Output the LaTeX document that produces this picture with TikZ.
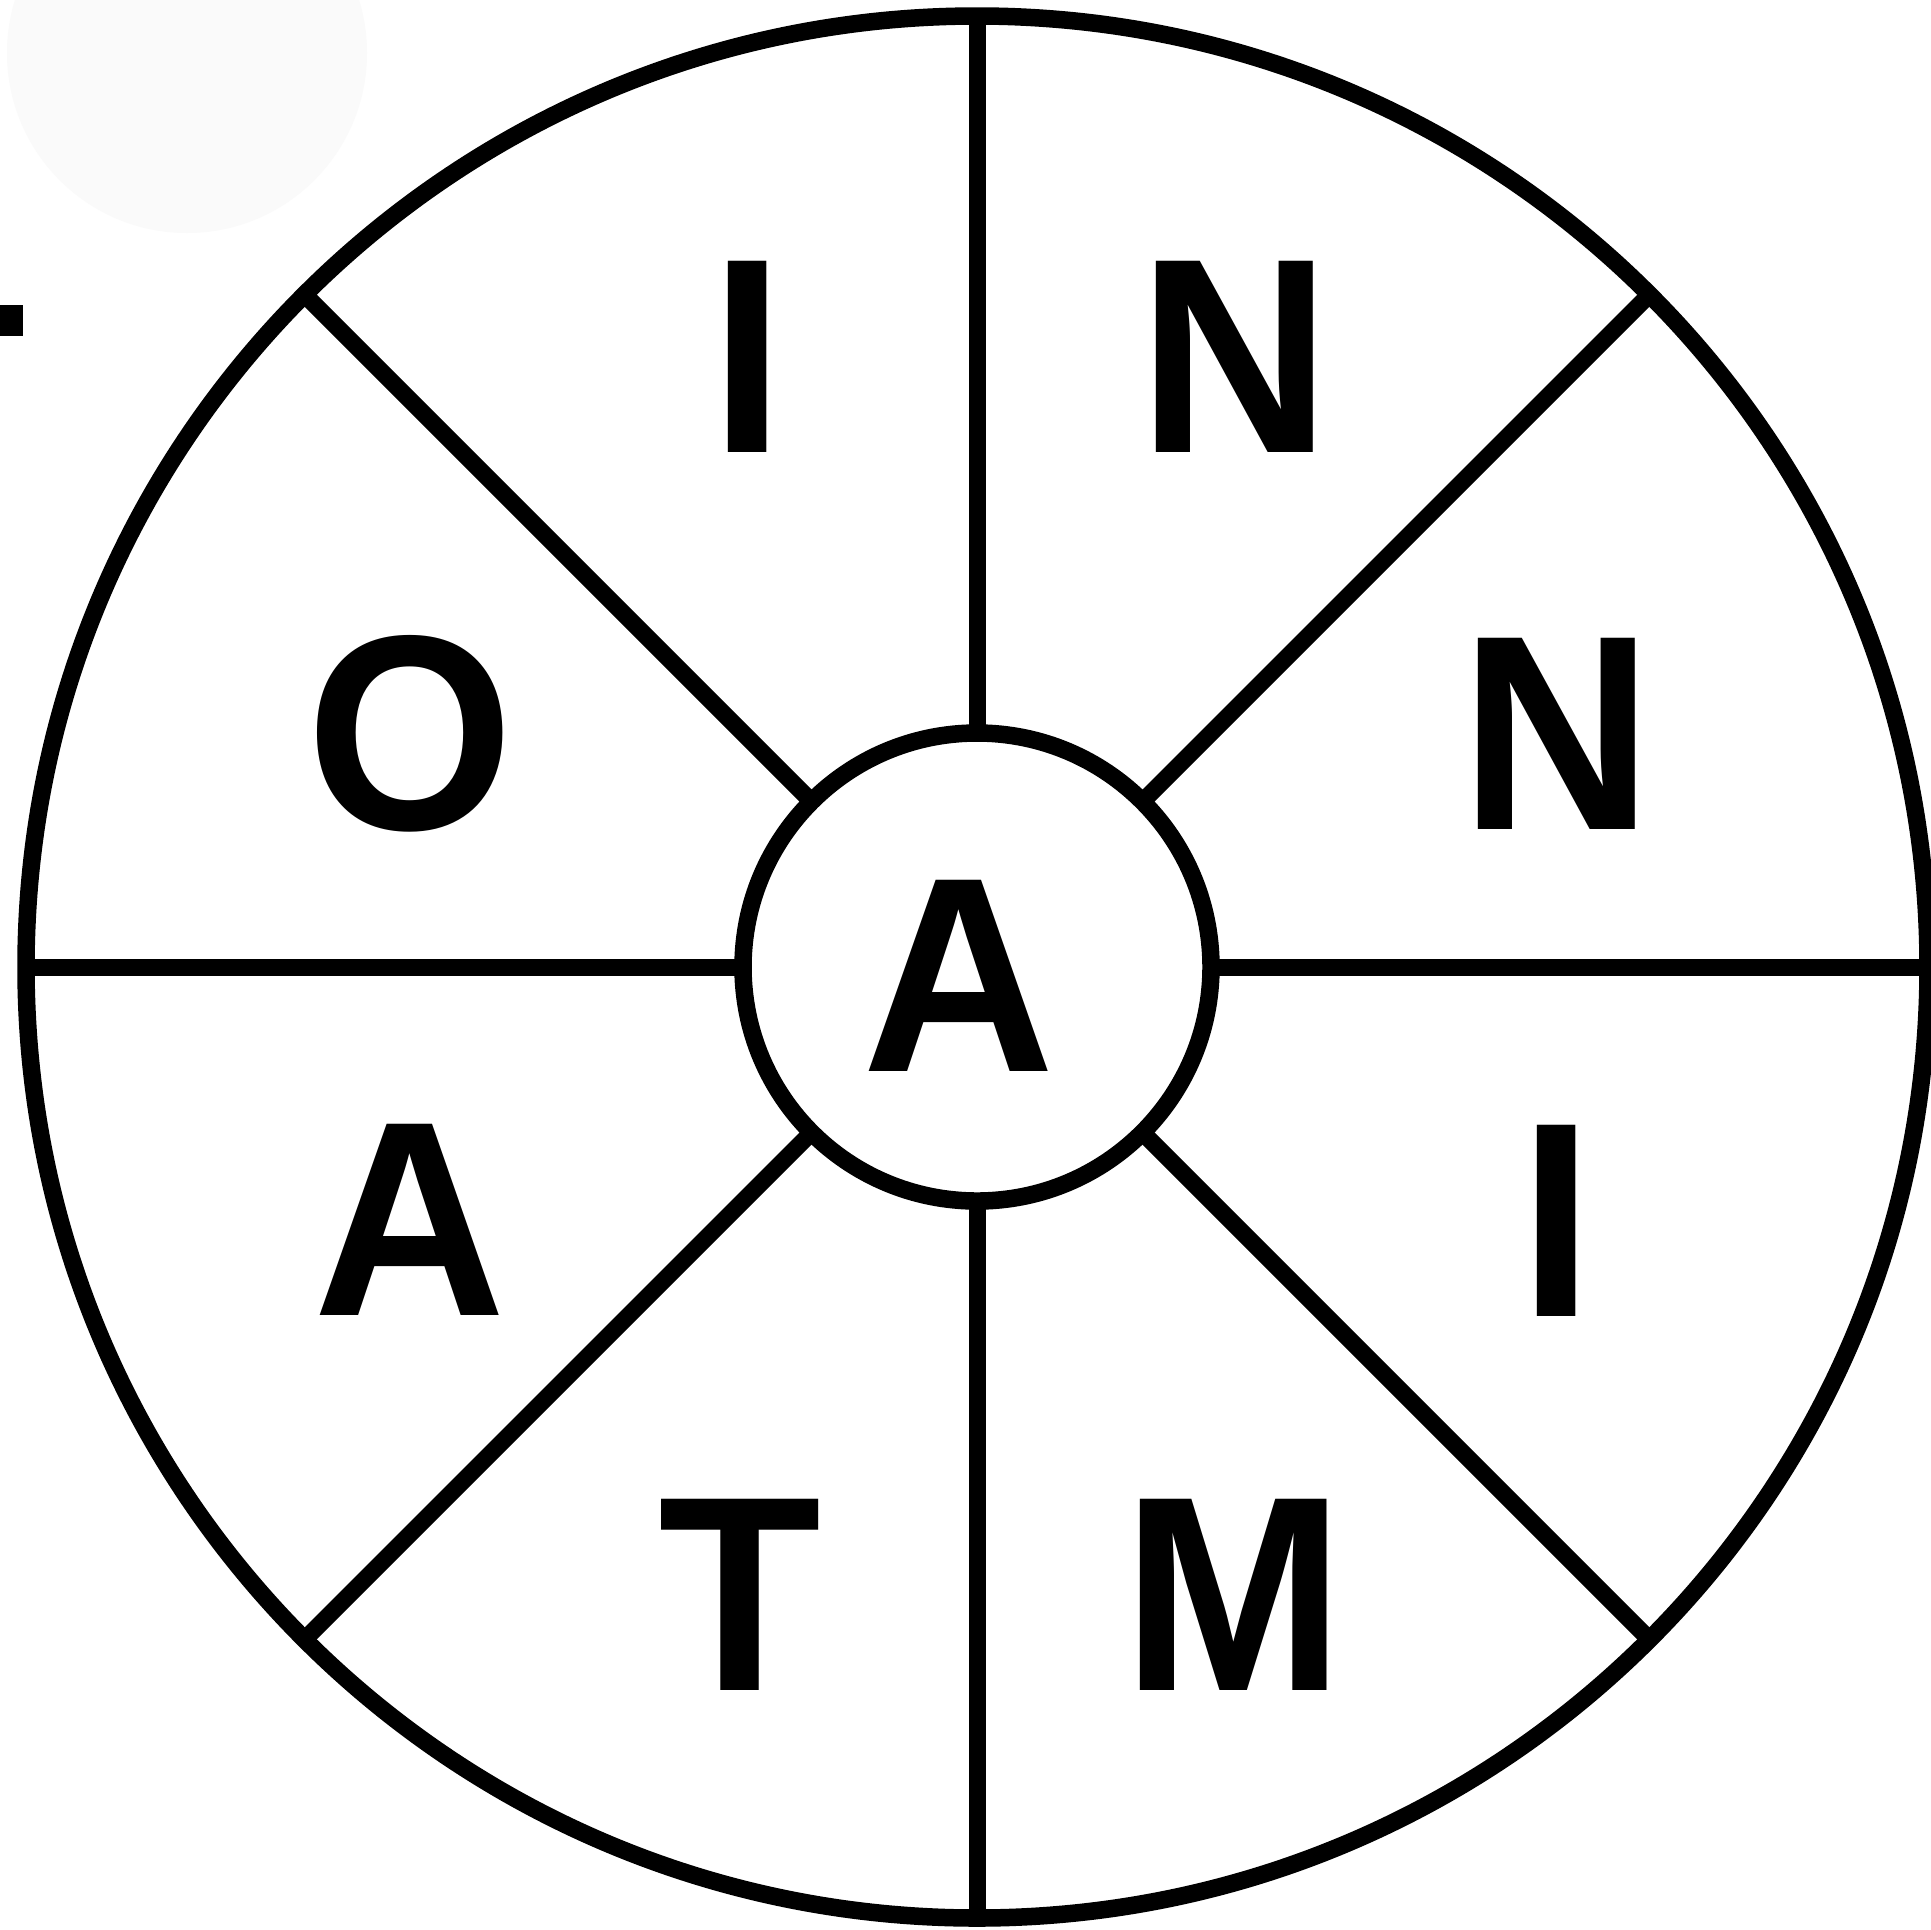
\documentclass[tikz,border=0pt]{standalone}
\usepackage{fontspec}
\setmainfont{Liberation Sans}
\definecolor{faint}{HTML}{FAFAFA}
\newcommand{\ltr}[1]{\scalebox{0.96}[1]{#1}}
\begin{document}
\begin{tikzpicture}[x=0.5pt,y=-0.5pt,
  ring/.style={circle,draw=black,line width=8.75pt,inner sep=0pt,outer sep=0pt},
  spoke/.style={line width=8.5pt,draw=black},
  letter/.style={anchor=base,inner sep=0pt,outer sep=0pt,text=black,font=\fontsize{139pt}{145pt}\selectfont\bfseries}]
\useasboundingbox (0,0) rectangle (1931,1929);
\clip (0,0) rectangle (1931,1929);
\fill[white] (0,0) rectangle (1931,1929);
\fill[faint] (187,53) circle[radius=90pt];
\fill[black] (0,305) rectangle (23,336);
\node[ring,minimum size=951pt] (outer) at (977,967) {};
\node[ring,minimum size=234pt] (hub) at (977,967) {};
\foreach \a in {0,45,...,315} \draw[spoke] (hub.\a) -- (outer.\a);
\node[letter] (l1) at (748,452) {\ltr{I}};
\node[letter] (l2) at (1235,452) {\ltr{N}};
\node[letter] (l3) at (1557,829) {\ltr{N}};
\node[letter] (l4) at (1557,1316) {\ltr{I}};
\node[letter] (l5) at (1234,1690) {\ltr{M}};
\node[letter] (l6) at (740,1690) {\ltr{T}};
\node[letter] (l7) at (410,1315) {\ltr{A}};
\node[letter] (l8) at (410,829) {\ltr{O}};
\node[letter] (lc) at (959,1071) {\ltr{A}};
\end{tikzpicture}
\end{document}
